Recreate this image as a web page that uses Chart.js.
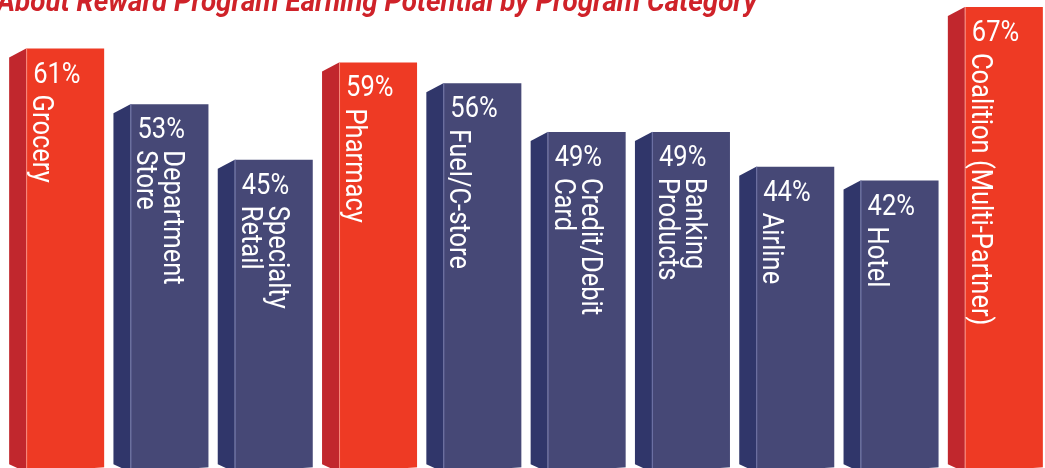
<!DOCTYPE html>
<html lang="en">
<head>
  <meta charset="UTF-8" />
  <title>Reward Program Earning Potential by Program Category</title>
  <script src="https://cdn.jsdelivr.net/npm/chart.js"></script>
  <style>
    html, body {
      margin: 0;
      padding: 0;
      background: #ffffff;
      overflow: hidden;
    }
    #wrap {
      position: relative;
      width: 1060px;
      height: 468px;
    }
  </style>
</head>
<body>

<div id="wrap">
  <canvas id="rewardChart"></canvas>
</div>

<script>
  // Data
  const titleText = 'About Reward Program Earning Potential by Program Category';
  const categories = [
    ['Grocery'],
    ['Department', 'Store'],
    ['Specialty', 'Retail'],
    ['Pharmacy'],
    ['Fuel/C-store'],
    ['Credit/Debit', 'Card'],
    ['Banking', 'Products'],
    ['Airline'],
    ['Hotel'],
    ['Coalition (Multi-Partner)']
  ];
  const values = [61, 53, 45, 59, 56, 49, 49, 44, 42, 67];
  const highlighted = [true, false, false, true, false, false, false, false, false, true];

  // Colori
  const RED = '#ee3a24', RED_SIDE = '#c1272d', RED_EDGE = 'rgba(255,170,160,0.7)';
  const BLUE = '#464876', BLUE_SIDE = '#30366a', BLUE_EDGE = '#6e72a6';
  const TEXT_FONT = '29px Roboto, "DejaVu Sans", sans-serif';
  const SQUEEZE = 0.88;

  // Faccia laterale, testo ruotato e titolo
  const bars3d = {
    id: 'bars3d',
    afterDatasetsDraw(chart) {
      const ctx = chart.ctx;
      const meta = chart.getDatasetMeta(0);
      const depth = 17, drop = 9, slant = 8, slope = 5;

      meta.data.forEach((bar, i) => {
        const { x, y, base, width } = bar.getProps(['x', 'y', 'base', 'width'], true);
        const L = x - width / 2, R = x + width / 2;
        const hot = highlighted[i];

        ctx.save();
        // lato sinistro
        ctx.fillStyle = hot ? RED_SIDE : BLUE_SIDE;
        ctx.beginPath();
        ctx.moveTo(L - depth, y + drop);
        ctx.lineTo(L, y);
        ctx.lineTo(L, base);
        ctx.lineTo(L - depth, base - slant);
        ctx.closePath();
        ctx.fill();

        // taglio in basso della faccia frontale
        ctx.fillStyle = '#ffffff';
        ctx.beginPath();
        ctx.moveTo(L, base + 1);
        ctx.lineTo(R + 1, base - slope);
        ctx.lineTo(R + 1, base + 1);
        ctx.closePath();
        ctx.fill();

        // spigolo chiaro
        ctx.strokeStyle = hot ? RED_EDGE : BLUE_EDGE;
        ctx.lineWidth = 1;
        ctx.beginPath();
        ctx.moveTo(L + 0.5, y);
        ctx.lineTo(L + 0.5, base);
        ctx.stroke();

        // percentuale
        ctx.fillStyle = '#ffffff';
        ctx.font = TEXT_FONT;
        ctx.textBaseline = 'alphabetic';
        ctx.textAlign = 'left';
        ctx.translate(L + 7, y + 34);
        ctx.scale(SQUEEZE, 1);
        ctx.fillText(values[i] + '%', 0, 0);
        ctx.restore();

        // etichetta ruotata
        const lines = categories[i];
        const lineH = 27;
        lines.forEach((line, k) => {
          ctx.save();
          ctx.fillStyle = '#ffffff';
          ctx.font = TEXT_FONT;
          ctx.textBaseline = 'alphabetic';
          ctx.textAlign = 'left';
          ctx.translate(L + 7 + (lines.length - 1 - k) * lineH, y + 46);
          ctx.rotate(Math.PI / 2);
          ctx.scale(SQUEEZE, 1);
          ctx.fillText(line, 0, 0);
          ctx.restore();
        });
      });

      // titolo (tagliato in alto)
      ctx.save();
      ctx.font = 'italic bold 30px Roboto, "DejaVu Sans", sans-serif';
      ctx.fillStyle = '#cf2229';
      ctx.textBaseline = 'alphabetic';
      ctx.textAlign = 'left';
      const w = ctx.measureText(titleText).width;
      const sx = 760 / w;
      ctx.translate(-3, 11);
      ctx.scale(sx, 1);
      ctx.fillText(titleText, 0, 0);
      ctx.restore();
    }
  };

  const ctx = document.getElementById('rewardChart').getContext('2d');
  const rewardChart = new Chart(ctx, {
    type: 'bar',
    data: {
      labels: categories,
      datasets: [{
        data: values,
        backgroundColor: highlighted.map(h => h ? RED : BLUE),
        borderWidth: 0,
        categoryPercentage: 1,
        barPercentage: 0.748
      }]
    },
    options: {
      responsive: true,
      maintainAspectRatio: false,
      animation: false,
      layout: { padding: { left: 13, right: 4, top: 0, bottom: 0 } },
      plugins: {
        legend: { display: false },
        tooltip: { enabled: false },
        title: { display: false }
      },
      scales: {
        x: { display: false },
        y: { display: false, min: 0.6, max: 68 }
      }
    },
    plugins: [bars3d]
  });
</script>

</body>
</html>
